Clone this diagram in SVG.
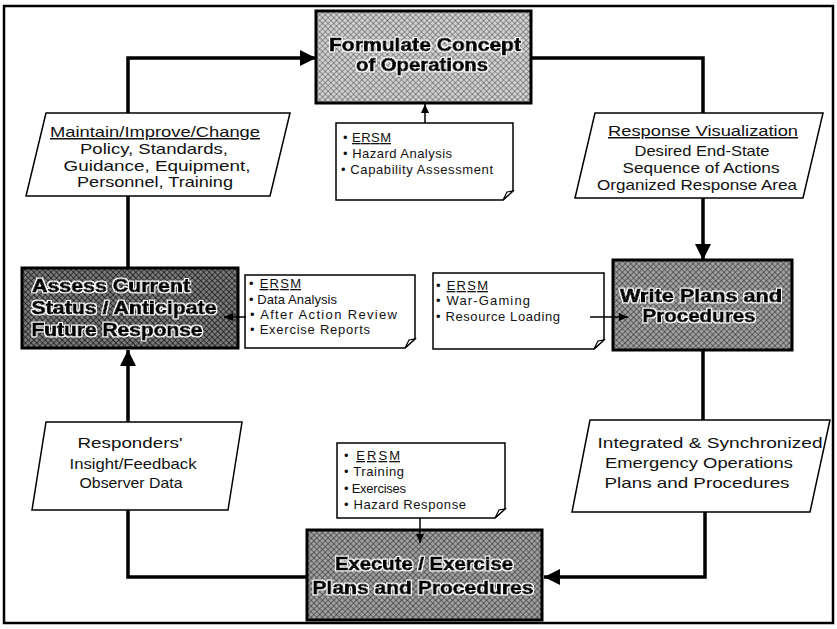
<svg xmlns="http://www.w3.org/2000/svg" width="837" height="629" viewBox="0 0 837 629">
  <style>
    .frame { fill: none; stroke: #000; stroke-width: 2.5; }
    .box { stroke: #000; stroke-width: 3; }
    .para { fill: #fff; stroke: #000; stroke-width: 1.5; }
    .note { fill: #fff; stroke: #000; stroke-width: 1.5; }
    .flap { fill: #fff; stroke: #000; stroke-width: 1.2; }
    .wire { fill: none; stroke: #000; stroke-width: 3.5; }
    .thin { fill: none; stroke: #000; stroke-width: 1.5; }
    .title { font-family: "Liberation Sans", Arial, sans-serif; font-weight: bold; font-size: 18px; fill: #000; stroke: #000; stroke-width: 0.9; text-anchor: middle; filter: url(#halo); }
    .ptxt { font-family: "Liberation Sans", Arial, sans-serif; font-size: 15px; fill: #111; text-anchor: middle; }
    .ntxt { font-family: "Liberation Sans", Arial, sans-serif; font-size: 13px; fill: #111; }
    .ul { text-decoration: underline; }
  </style>
  <defs>
    <!-- white outline around the heavy box titles -->
    <filter id="halo" x="-10%" y="-30%" width="120%" height="160%">
      <feMorphology in="SourceAlpha" operator="dilate" radius="1.3" result="grown"/>
      <feFlood flood-color="#fff"/>
      <feComposite in2="grown" operator="in" result="outline"/>
      <feMerge>
        <feMergeNode in="outline"/>
        <feMergeNode in="SourceGraphic"/>
      </feMerge>
    </filter>
    <pattern id="hatchLight" patternUnits="userSpaceOnUse" width="4" height="4" patternTransform="rotate(45)">
      <rect width="4" height="4" fill="#d0d0d0"/>
      <path d="M0,0 V4 M0,0 H4" stroke="#4a4a4a" stroke-width="1"/>
    </pattern>
    <pattern id="hatchMid" patternUnits="userSpaceOnUse" width="4" height="4" patternTransform="rotate(45)">
      <rect width="4" height="4" fill="#a0a0a0"/>
      <path d="M0,0 V4 M0,0 H4" stroke="#262626" stroke-width="1.1"/>
    </pattern>
    <pattern id="hatchDark" patternUnits="userSpaceOnUse" width="4" height="4" patternTransform="rotate(45)">
      <rect width="4" height="4" fill="#7a7a7a"/>
      <path d="M0,0 V4 M0,0 H4" stroke="#141414" stroke-width="1.3"/>
    </pattern>
    <marker id="bigArrow" markerUnits="userSpaceOnUse" markerWidth="18" markerHeight="18" refX="16" refY="8" orient="auto">
      <path d="M0,0 L16,8 L0,16 Z" fill="#000"/>
    </marker>
    <marker id="smallArrow" markerUnits="userSpaceOnUse" markerWidth="10" markerHeight="10" refX="9" refY="4" orient="auto">
      <path d="M0,0 L9,4 L0,8 Z" fill="#000"/>
    </marker>
  </defs>

  <rect width="837" height="629" fill="#fff"/>
  <rect class="frame" x="4" y="6" width="829" height="617"/>

  <!-- process boxes -->
  <g id="formulate">
    <rect class="box" x="316" y="11" width="215" height="92" fill="url(#hatchLight)"/>
    <text class="title" x="425" y="51" textLength="192" lengthAdjust="spacingAndGlyphs">Formulate Concept</text>
    <text class="title" x="422" y="71" textLength="132" lengthAdjust="spacingAndGlyphs">of Operations</text>
  </g>

  <g id="assess">
    <rect class="box" x="22" y="268" width="216" height="80" fill="url(#hatchDark)"/>
    <text class="title" x="111" y="292" textLength="158" lengthAdjust="spacingAndGlyphs">Assess Current</text>
    <text class="title" x="124" y="314" textLength="185" lengthAdjust="spacingAndGlyphs">Status / Anticipate</text>
    <text class="title" x="117" y="336" textLength="171" lengthAdjust="spacingAndGlyphs">Future Response</text>
  </g>

  <g id="write">
    <rect class="box" x="613" y="260" width="179" height="90" fill="url(#hatchMid)"/>
    <text class="title" x="701" y="302" textLength="162" lengthAdjust="spacingAndGlyphs">Write Plans and</text>
    <text class="title" x="699" y="322" textLength="113" lengthAdjust="spacingAndGlyphs">Procedures</text>
  </g>

  <g id="execute">
    <rect class="box" x="307" y="530" width="235" height="90" fill="url(#hatchMid)"/>
    <text class="title" x="424" y="570" textLength="178" lengthAdjust="spacingAndGlyphs">Execute / Exercise</text>
    <text class="title" x="423" y="594" textLength="221" lengthAdjust="spacingAndGlyphs">Plans and Procedures</text>
  </g>

  <!-- input / output parallelograms -->
  <g id="maintain">
    <polygon class="para" points="46,113 290,113 270,196 26,196"/>
    <text class="ptxt ul" x="155" y="137" textLength="210" lengthAdjust="spacingAndGlyphs">Maintain/Improve/Change</text>
    <text class="ptxt" x="154" y="154" textLength="148" lengthAdjust="spacingAndGlyphs">Policy, Standards,</text>
    <text class="ptxt" x="157" y="171" textLength="187" lengthAdjust="spacingAndGlyphs">Guidance, Equipment,</text>
    <text class="ptxt" x="155" y="187" textLength="156" lengthAdjust="spacingAndGlyphs">Personnel, Training</text>
  </g>

  <g id="visualization">
    <polygon class="para" points="595,113 823,113 803,198 575,198"/>
    <text class="ptxt ul" x="703" y="136" textLength="190" lengthAdjust="spacingAndGlyphs">Response Visualization</text>
    <text class="ptxt" x="702" y="156" textLength="135" lengthAdjust="spacingAndGlyphs">Desired End-State</text>
    <text class="ptxt" x="701" y="173" textLength="157" lengthAdjust="spacingAndGlyphs">Sequence of Actions</text>
    <text class="ptxt" x="697" y="190" textLength="200" lengthAdjust="spacingAndGlyphs">Organized Response Area</text>
  </g>

  <g id="feedback">
    <polygon class="para" points="46,422 242,422 228,510 32,510"/>
    <text class="ptxt" x="130" y="448" textLength="105" lengthAdjust="spacingAndGlyphs">Responders'</text>
    <text class="ptxt" x="133" y="469" textLength="127" lengthAdjust="spacingAndGlyphs">Insight/Feedback</text>
    <text class="ptxt" x="131" y="488" textLength="103" lengthAdjust="spacingAndGlyphs">Observer Data</text>
  </g>

  <g id="integrated">
    <polygon class="para" points="590,420 830,420 810,512 572,512"/>
    <text class="ptxt" x="710" y="448" textLength="225" lengthAdjust="spacingAndGlyphs">Integrated &amp; Synchronized</text>
    <text class="ptxt" x="699" y="468" textLength="188" lengthAdjust="spacingAndGlyphs">Emergency Operations</text>
    <text class="ptxt" x="697" y="488" textLength="185" lengthAdjust="spacingAndGlyphs">Plans and Procedures</text>
  </g>

  <!-- ERSM notes -->
  <g id="note-concept">
    <path class="note" d="M336,123 H513 V191 L503,200 H336 Z"/>
    <path class="flap" d="M503,200 L507,192 L513,191 Z"/>
    <text class="ntxt" x="343" y="142" textLength="48" lengthAdjust="spacing">• <tspan class="ul">ERSM</tspan></text>
    <text class="ntxt" x="343" y="158" textLength="109" lengthAdjust="spacing">• Hazard Analysis</text>
    <text class="ntxt" x="341" y="174" textLength="152" lengthAdjust="spacing">• Capability Assessment</text>
  </g>

  <g id="note-assess">
    <path class="note" d="M245,275 H415 V339 L405,348 H245 Z"/>
    <path class="flap" d="M405,348 L409,340 L415,339 Z"/>
    <text class="ntxt" x="249" y="288" textLength="52" lengthAdjust="spacing">• <tspan class="ul">ERSM</tspan></text>
    <text class="ntxt" x="249" y="304" textLength="88" lengthAdjust="spacing">• Data Analysis</text>
    <text class="ntxt" x="250" y="319" textLength="147" lengthAdjust="spacing">• After Action Review</text>
    <text class="ntxt" x="250" y="334" textLength="120" lengthAdjust="spacing">• Exercise Reports</text>
  </g>

  <g id="note-write">
    <path class="note" d="M433,273 H604 V340 L594,349 H433 Z"/>
    <path class="flap" d="M594,349 L598,341 L604,340 Z"/>
    <text class="ntxt" x="436" y="290" textLength="52" lengthAdjust="spacing">• <tspan class="ul">ERSM</tspan></text>
    <text class="ntxt" x="436" y="305" textLength="94" lengthAdjust="spacing">• War-Gaming</text>
    <text class="ntxt" x="436" y="321" textLength="124" lengthAdjust="spacing">• Resource Loading</text>
  </g>

  <g id="note-execute">
    <path class="note" d="M337,443 H505 V509 L495,518 H337 Z"/>
    <path class="flap" d="M495,518 L499,510 L505,509 Z"/>
    <text class="ntxt" x="344" y="460" textLength="56" lengthAdjust="spacing">• <tspan class="ul">ERSM</tspan></text>
    <text class="ntxt" x="344" y="476" textLength="60" lengthAdjust="spacing">• Training</text>
    <text class="ntxt" x="344" y="493" textLength="62" lengthAdjust="spacing">• Exercises</text>
    <text class="ntxt" x="344" y="509" textLength="122" lengthAdjust="spacing">• Hazard Response</text>
  </g>

  <!-- connectors, drawn over the nodes so arrow tips stay visible -->
  <g id="connectors">
    <path class="wire" d="M307,577 H128 V510"/>
    <path class="wire" d="M128,422 V350" marker-end="url(#bigArrow)"/>
    <path class="wire" d="M128,268 V196"/>
    <path class="wire" d="M128,113 V58 H316" marker-end="url(#bigArrow)"/>
    <path class="wire" d="M531,58 H703 V113"/>
    <path class="wire" d="M703,198 V260" marker-end="url(#bigArrow)"/>
    <path class="wire" d="M703,350 V420"/>
    <path class="wire" d="M705,512 V577 H544" marker-end="url(#bigArrow)"/>
    <path class="thin" d="M425,123 V104" marker-end="url(#smallArrow)"/>
    <path class="thin" d="M246,317 H224" marker-end="url(#smallArrow)"/>
    <path class="thin" d="M590,317 H628" marker-end="url(#smallArrow)"/>
    <path class="thin" d="M420,518 V543" marker-end="url(#smallArrow)"/>
  </g>
</svg>
